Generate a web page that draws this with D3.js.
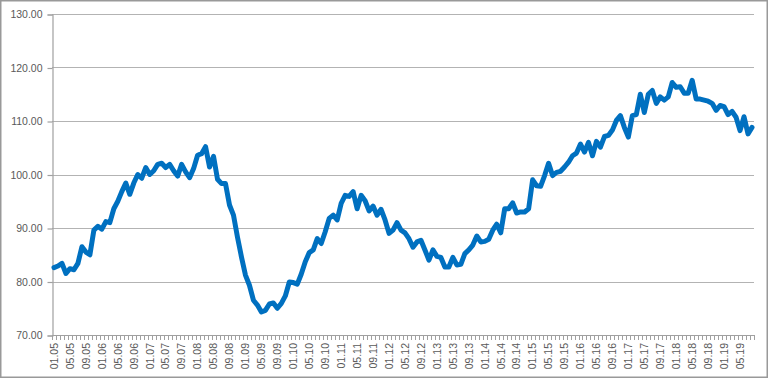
<!DOCTYPE html>
<html>
<head>
<meta charset="utf-8">
<script src="https://cdn.jsdelivr.net/npm/d3@7"></script>
<style>
  html, body { margin: 0; padding: 0; background: #fff; }
  svg { display: block; }
  text { font-family: "Liberation Sans", Arial, sans-serif; fill: #595959; }
</style>
</head>
<body>
<svg id="chart" width="768" height="378"></svg>
<script>
// ---- data ----
const years = ["05","06","07","08","09","10","11","12","13","14","15","16","17","18","19"];
const months = ["01","02","03","04","05","06","07","08","09","10","11","12"];
// monthly categories 01.05 .. 08.19
const categories = [];
years.forEach(y => months.forEach(m => { if (!(y === "19" && +m > 8)) categories.push(m + "." + y); }));

const values = [
  82.6, 82.9, 83.4, 81.5, 82.4, 82.2, 83.4, 86.5, 85.5, 85.0,
  89.6, 90.3, 89.8, 91.2, 91.0, 93.6, 95.0, 96.8, 98.4, 96.3,
  98.4, 100.0, 99.3, 101.3, 100.0, 100.7, 101.9, 102.1, 101.3, 101.9,
  100.7, 99.7, 101.9, 100.5, 99.4, 101.1, 103.6, 103.9, 105.2, 101.4,
  103.4, 99.1, 98.3, 98.3, 94.3, 92.4, 88.3, 84.6, 81.2, 79.3,
  76.5, 75.6, 74.3, 74.6, 75.8, 76.0, 75.0, 75.9, 77.3, 79.9,
  79.8, 79.5, 81.4, 83.7, 85.4, 85.9, 88.0, 87.1, 89.3, 91.8,
  92.4, 91.5, 94.6, 96.1, 95.9, 96.8, 93.6, 96.1, 95.1, 93.2,
  94.1, 92.4, 93.5, 91.5, 89.0, 89.6, 91.0, 89.6, 89.1, 88.0,
  86.4, 87.4, 87.7, 85.9, 84.0, 85.9, 84.7, 84.5, 82.7, 82.7,
  84.5, 83.1, 83.2, 85.2, 85.9, 86.8, 88.5, 87.4, 87.5, 87.9,
  89.6, 90.7, 89.1, 93.6, 93.6, 94.7, 92.8, 93.0, 93.0, 93.6,
  99.0, 97.9, 97.8, 99.8, 102.1, 99.8, 100.4, 100.6, 101.4, 102.3,
  103.5, 104.0, 105.7, 104.2, 106.0, 103.5, 106.2, 105.1, 107.1, 107.3,
  108.3, 110.1, 111.0, 108.8, 107.0, 111.0, 111.2, 115.0, 111.6, 115.0,
  115.7, 113.3, 114.5, 113.9, 114.5, 117.2, 116.3, 116.4, 115.2, 115.2,
  117.6, 114.1, 114.1, 113.9, 113.7, 113.3, 112.0, 112.9, 112.7, 111.2,
  111.8, 110.7, 108.2, 110.8, 107.6, 108.8
];

const tickLabels = [
  "01.05","05.05","09.05","01.06","05.06","09.06","01.07","05.07","09.07",
  "01.08","05.08","09.08","01.09","05.09","09.09","01.10","05.10","09.10",
  "01.11","05.11","09.11","01.12","05.12","09.12","01.13","05.13","09.13",
  "01.14","05.14","09.14","01.15","05.15","09.15","01.16","05.16","09.16",
  "01.17","05.17","09.17","01.18","05.18","09.18","01.19","05.19"
];
const yTicks = [70, 80, 90, 100, 110, 120, 130];

// ---- layout ----
const svg = d3.select("#chart");
const W = 768, H = 378;
const mLeft = 52, mRight = 754, mTop = 14, mBottom = 335;

svg.append("rect").attr("x", 0.75).attr("y", 0.75).attr("width", W - 1.5).attr("height", H - 1.5)
  .attr("fill", "#fff").attr("stroke", "#999999").attr("stroke-width", 1.5);

const x = d3.scaleBand().domain(categories).range([mLeft, mRight]).padding(0);
const y = d3.scaleLinear().domain([70, 130]).range([mBottom, mTop]);

// gridlines
svg.append("g").selectAll("line").data(yTicks.filter(v => v > 70)).join("line")
  .attr("x1", mLeft).attr("x2", mRight)
  .attr("y1", d => Math.round(y(d)) + 0.5).attr("y2", d => Math.round(y(d)) + 0.5)
  .attr("stroke", "#b3b3b3").attr("stroke-width", 1.2);

// y axis
const yAxis = svg.append("g").attr("transform", `translate(${mLeft + 0.5},0.5)`)
  .call(d3.axisLeft(y).tickValues(yTicks).tickSize(5).tickPadding(5).tickFormat(d3.format(".2f")));
yAxis.select(".domain").attr("stroke", "#a0a0a0").attr("stroke-width", 1.2);
yAxis.selectAll(".tick line").attr("stroke", "#a0a0a0").attr("stroke-width", 1.2);
yAxis.selectAll(".tick text").attr("font-size", "10.5px").attr("fill", "#595959")
  .attr("font-family", "Liberation Sans, Arial, sans-serif");

// x axis baseline + category ticks
const xg = svg.append("g");
xg.append("line").attr("x1", mLeft).attr("x2", mRight)
  .attr("y1", mBottom + 0.5).attr("y2", mBottom + 0.5)
  .attr("stroke", "#a0a0a0").attr("stroke-width", 1.2);
const boundaries = categories.map(c => x(c)).concat([mRight]);
xg.selectAll("line.t").data(boundaries).join("line").attr("class", "t")
  .attr("x1", d => Math.round(d) + 0.5).attr("x2", d => Math.round(d) + 0.5)
  .attr("y1", mBottom).attr("y2", mBottom + 5)
  .attr("stroke", "#a0a0a0").attr("stroke-width", 1);

// x labels
xg.selectAll("text").data(tickLabels).join("text")
  .attr("transform", d => `translate(${x(d) + x.bandwidth() / 2 + 3.8},343) rotate(-90)`)
  .attr("text-anchor", "end")
  .attr("font-size", "10.5px")
  .text(d => d);

// line
const line = d3.line()
  .x((d, i) => x(categories[i]) + x.bandwidth() / 2)
  .y(d => y(d))
  .curve(d3.curveLinear);
svg.append("path").datum(values)
  .attr("d", line)
  .attr("fill", "none")
  .attr("stroke", "#0070C0")
  .attr("stroke-width", 5)
  .attr("stroke-linejoin", "round")
  .attr("stroke-linecap", "round");
</script>
</body>
</html>
